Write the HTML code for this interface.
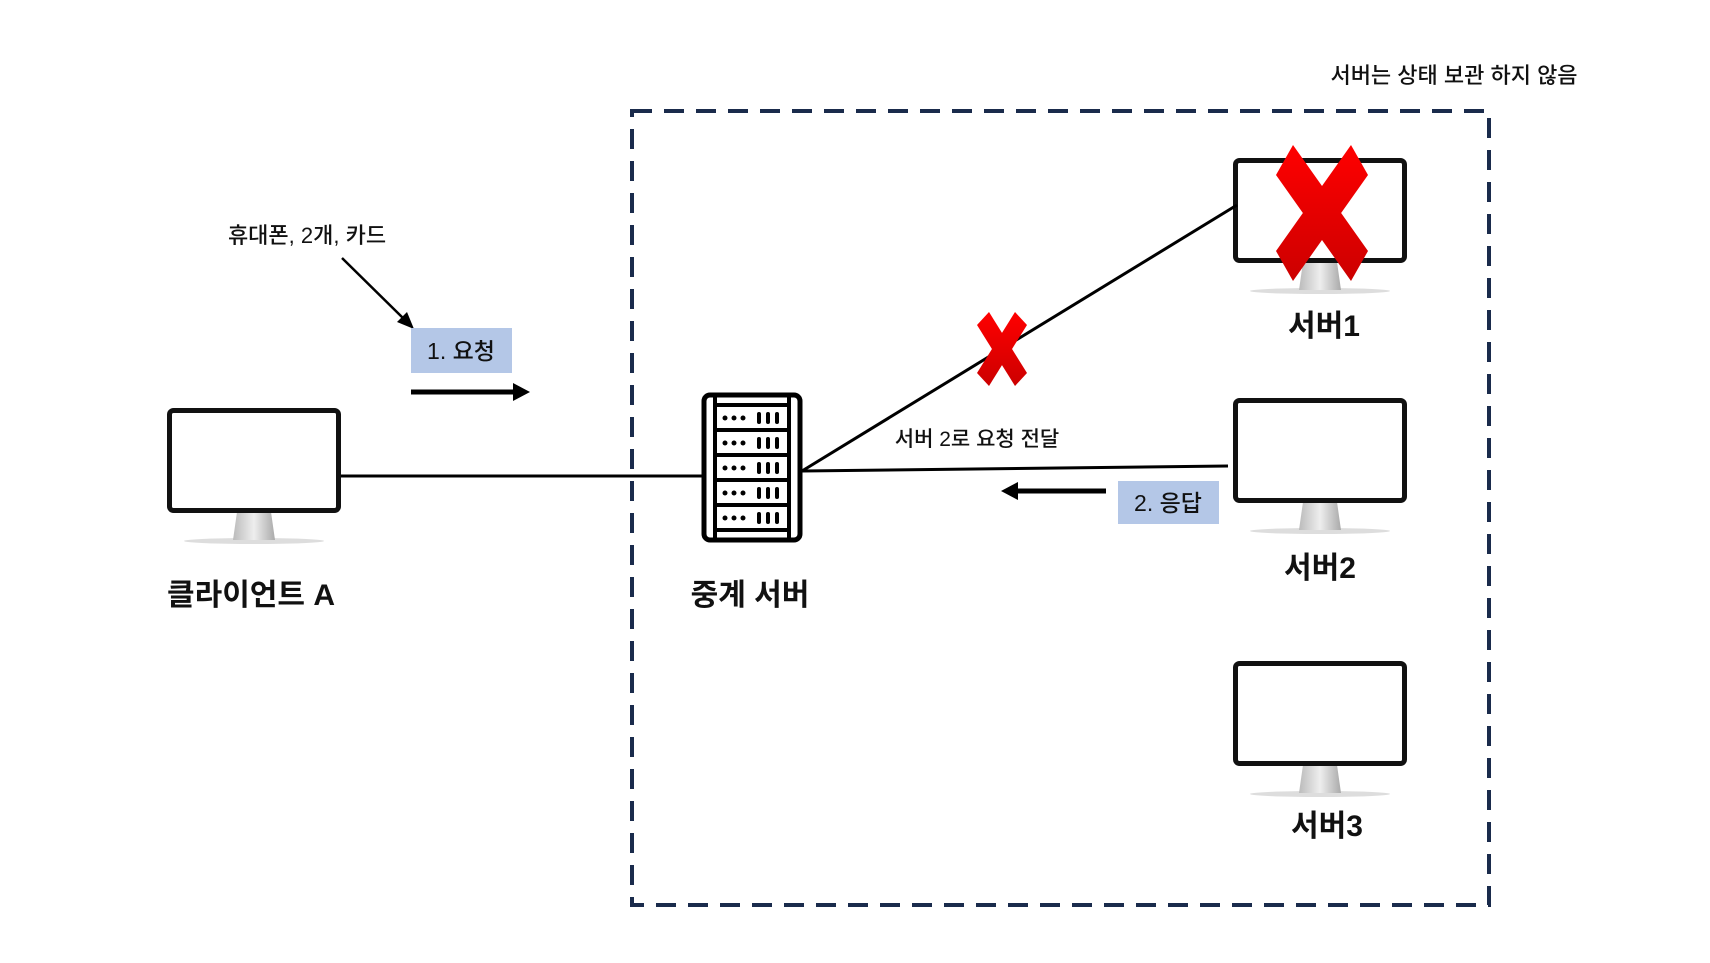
<!DOCTYPE html>
<html><head><meta charset="utf-8"><style>
body{margin:0;width:1710px;height:963px;background:#fff;overflow:hidden;font-family:"Liberation Sans","Noto Sans CJK KR",sans-serif;}
svg{position:absolute;left:0;top:0}
.s{font-weight:500}
</style></head><body>
<svg width="1710" height="963" viewBox="0 0 1710 963" xmlns="http://www.w3.org/2000/svg">
<defs>
<linearGradient id="st" x1="0" x2="1"><stop offset="0" stop-color="#bbb"/><stop offset="0.5" stop-color="#eee"/><stop offset="1" stop-color="#aaa"/></linearGradient>
<linearGradient id="rx" x1="0" y1="0" x2="0" y2="1"><stop offset="0" stop-color="#f00"/><stop offset="1" stop-color="#c00"/></linearGradient>
<g id="mon">
<ellipse cx="87" cy="133" rx="70" ry="3" fill="#ddd"/>
<path d="M70 104 L104 104 L108 132 L66 132 Z" fill="url(#st)"/>
<rect x="2.5" y="2.5" width="169" height="100" rx="4" fill="#fff" stroke="#111" stroke-width="5"/>
</g>
</defs>
<rect x="632" y="111" width="857" height="794" fill="none" stroke="#1a2b4c" stroke-width="4" stroke-dasharray="20 12"/>
<text class="s" x="1454" y="83" font-size="22" text-anchor="middle" fill="#111">서버는 상태 보관 하지 않음</text>
<use href="#mon" x="167" y="408"/>
<use href="#mon" x="1233" y="158"/>
<use href="#mon" x="1233" y="398"/>
<use href="#mon" x="1233" y="661"/>
<line x1="341" y1="476" x2="702" y2="476" stroke="#000" stroke-width="3"/>
<line x1="802" y1="471" x2="1237" y2="205" stroke="#000" stroke-width="3"/>
<line x1="802" y1="471" x2="1228" y2="466" stroke="#000" stroke-width="3"/>
<rect x="704" y="395" width="96" height="145" rx="6" fill="#fff" stroke="#000" stroke-width="5"/>
<line x1="715" y1="397" x2="715" y2="538" stroke="#000" stroke-width="4"/>
<line x1="789" y1="397" x2="789" y2="538" stroke="#000" stroke-width="4"/>
<g stroke="#000" stroke-width="4" fill="#fff">
<rect x="715" y="405" width="74" height="25"/><rect x="715" y="430" width="74" height="25"/><rect x="715" y="455" width="74" height="25"/><rect x="715" y="480" width="74" height="25"/><rect x="715" y="505" width="74" height="25"/>
</g>
<g fill="#000">
<g id="row"><circle cx="725" cy="418" r="2.5"/><circle cx="734" cy="418" r="2.5"/><circle cx="743" cy="418" r="2.5"/><rect x="757" y="412" width="4" height="12" rx="2"/><rect x="766" y="412" width="4" height="12" rx="2"/><rect x="775" y="412" width="4" height="12" rx="2"/></g>
<use href="#row" y="25"/><use href="#row" y="50"/><use href="#row" y="75"/><use href="#row" y="100"/>
</g>
<g fill="url(#rx)">
<polygon points="1276,175 1293,145 1368,251 1351,281"/>
<polygon points="1351,145 1368,175 1293,281 1276,251"/>
</g>
<g fill="url(#rx)">
<polygon points="977,325 989,312 1027,373 1015,386"/>
<polygon points="1015,312 1027,325 989,386 977,373"/>
</g>
<text class="s" x="307" y="243" font-size="22" text-anchor="middle" fill="#111">휴대폰, 2개, 카드</text>
<line x1="342" y1="258" x2="405" y2="320" stroke="#000" stroke-width="2.5"/>
<polygon points="414,329 397,322 407,312" fill="#000"/>
<rect x="411" y="328" width="101" height="45" fill="#b4c7e7"/>
<text class="s" x="461" y="359" font-size="23" text-anchor="middle" fill="#111">1. 요청</text>
<line x1="411" y1="392" x2="515" y2="392" stroke="#000" stroke-width="5"/>
<polygon points="530,392 513,383 513,401" fill="#000"/>
<text class="s" x="977" y="446" font-size="21" text-anchor="middle" fill="#111">서버 2로  요청 전달</text>
<line x1="1016" y1="491" x2="1106" y2="491" stroke="#000" stroke-width="5"/>
<polygon points="1001,491 1018,482 1018,500" fill="#000"/>
<rect x="1118" y="481" width="101" height="43" fill="#b4c7e7"/>
<text class="s" x="1168" y="511" font-size="23" text-anchor="middle" fill="#111">2. 응답</text>
<g font-size="30" font-weight="bold" text-anchor="middle" fill="#111">
<text x="251" y="605">클라이언트 A</text>
<text x="750" y="605">중계 서버</text>
<text x="1324" y="336">서버1</text>
<text x="1320" y="578">서버2</text>
<text x="1327" y="836">서버3</text>
</g>
</svg>
</body></html>
